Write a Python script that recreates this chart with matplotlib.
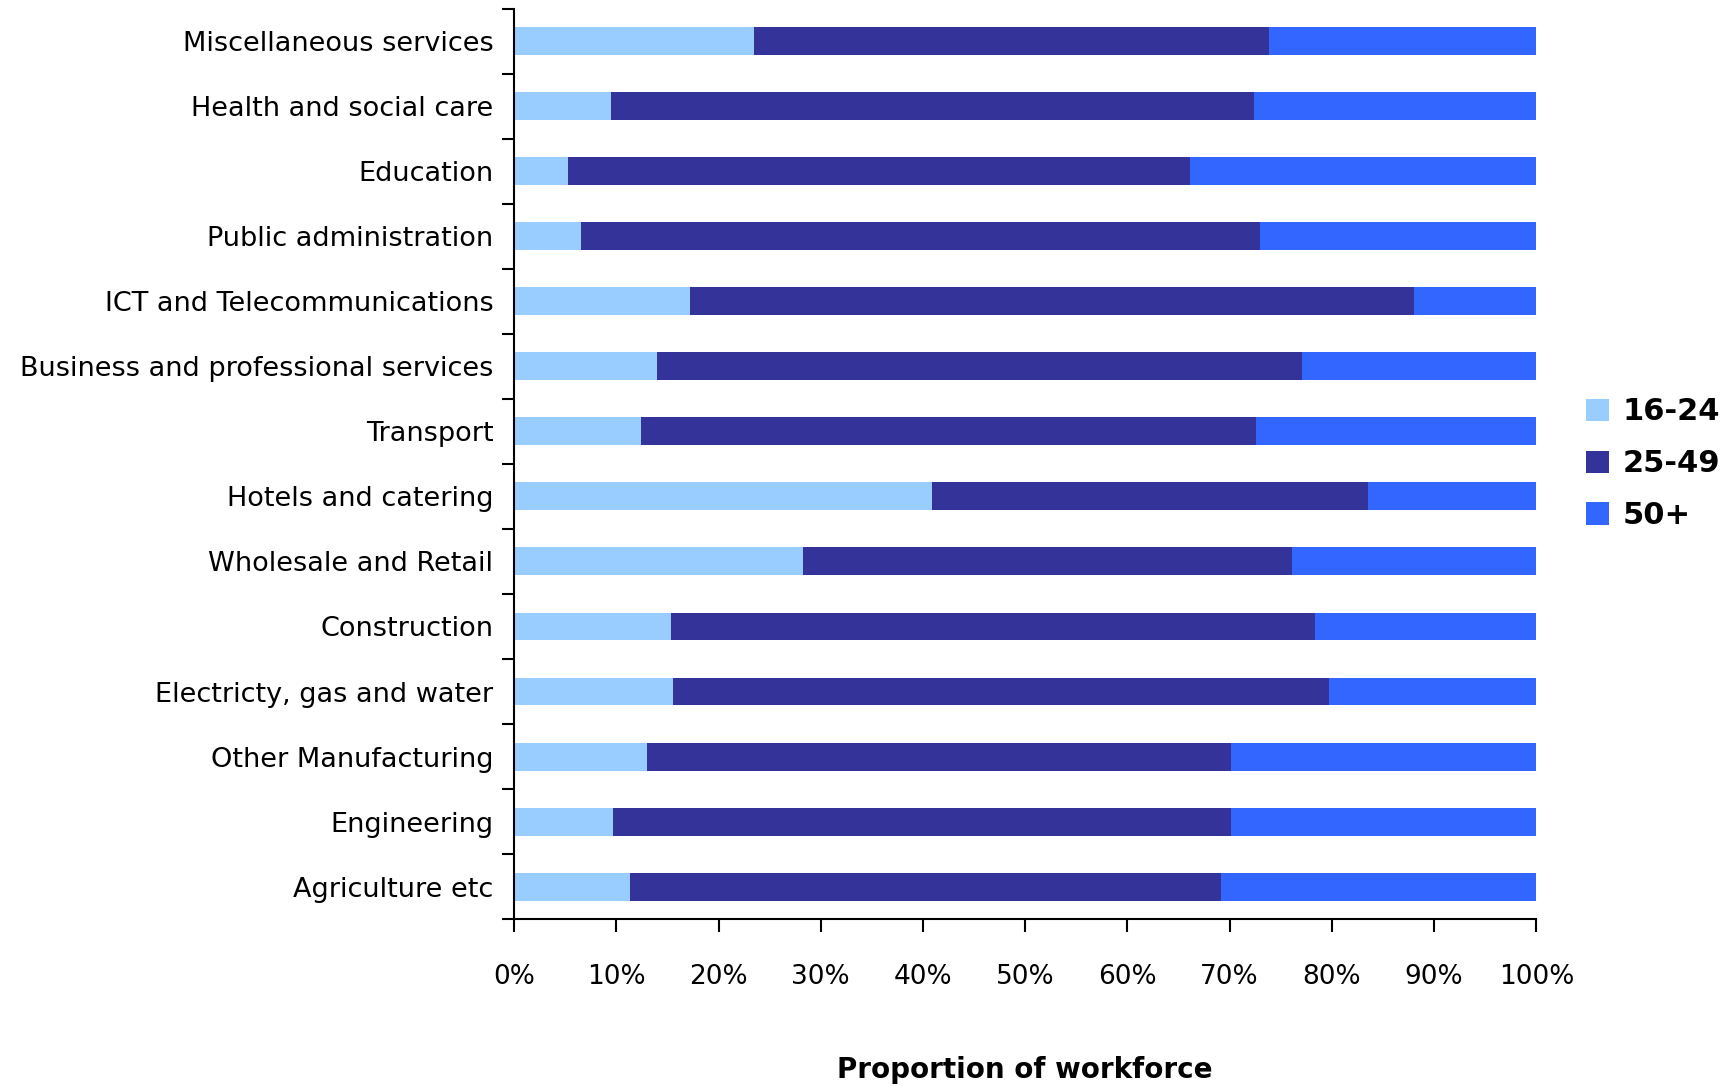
import numpy as np
import matplotlib
matplotlib.use('Agg')
import matplotlib.pyplot as plt
from matplotlib.ticker import FixedLocator, PercentFormatter

# sectors, bottom to top as drawn
sectors = ['Agriculture etc', 'Engineering', 'Other Manufacturing',
           'Electricty, gas and water', 'Construction', 'Wholesale and Retail',
           'Hotels and catering', 'Transport', 'Business and professional services',
           'ICT and Telecommunications', 'Public administration', 'Education',
           'Health and social care', 'Miscellaneous services']

# share of workforce by age band (%)
age_16_24 = [11.3, 9.7, 13.0, 15.5, 15.3, 28.3, 40.9, 12.4, 14.0, 17.2, 6.5, 5.3, 9.5, 23.5]
age_25_49 = [57.9, 60.4, 57.1, 64.2, 63.0, 47.8, 42.6, 60.2, 63.1, 70.8, 66.5, 60.8, 62.9, 50.3]
age_50_plus = [30.8, 29.9, 29.9, 20.3, 21.7, 23.9, 16.5, 27.4, 22.9, 12.0, 27.0, 33.9, 27.6, 26.2]

series_names = ['16-24', '25-49', '50+']
colours = ['#99CCFF', '#333399', '#3366FF']

fig = plt.figure(figsize=(17.34, 10.89), dpi=100)
ax = fig.add_axes([0.2965, 0.156, 0.5895, 0.836])

y = np.arange(len(sectors))
left = np.zeros(len(sectors))
for name, vals, col in zip(series_names, [age_16_24, age_25_49, age_50_plus], colours):
    vals = np.array(vals)
    ax.barh(y, vals, height=0.43, left=left, color=col, label=name)
    left = left + vals

ax.set_xlim(0, 100)
ax.set_ylim(-0.5, len(sectors) - 0.5)

# category labels centred, tick marks between categories (Excel style)
ax.set_yticks(y)
ax.set_yticklabels(sectors, fontsize=19.5)
ax.yaxis.set_minor_locator(FixedLocator(np.arange(-0.5, len(sectors), 1)))
ax.tick_params(axis='y', which='major', length=0, pad=15)
ax.tick_params(axis='y', which='minor', length=9, width=1.5)

ax.set_xticks(np.arange(0, 101, 10))
ax.xaxis.set_major_formatter(PercentFormatter(decimals=0))
ax.tick_params(axis='x', length=9, width=1.5, pad=23, labelsize=19)

for side in ['top', 'right']:
    ax.spines[side].set_visible(False)
for side in ['left', 'bottom']:
    ax.spines[side].set_linewidth(1.5)

ax.set_xlabel('Proportion of workforce', fontsize=20, fontweight='bold', labelpad=48)

leg = ax.legend(loc='center left', bbox_to_anchor=(1.022, 0.5), frameon=False,
                prop={'size': 22, 'weight': 'bold'}, handlelength=0.75,
                handleheight=0.75, handletextpad=0.45, labelspacing=0.75)

fig.savefig('out.png', dpi=100)
